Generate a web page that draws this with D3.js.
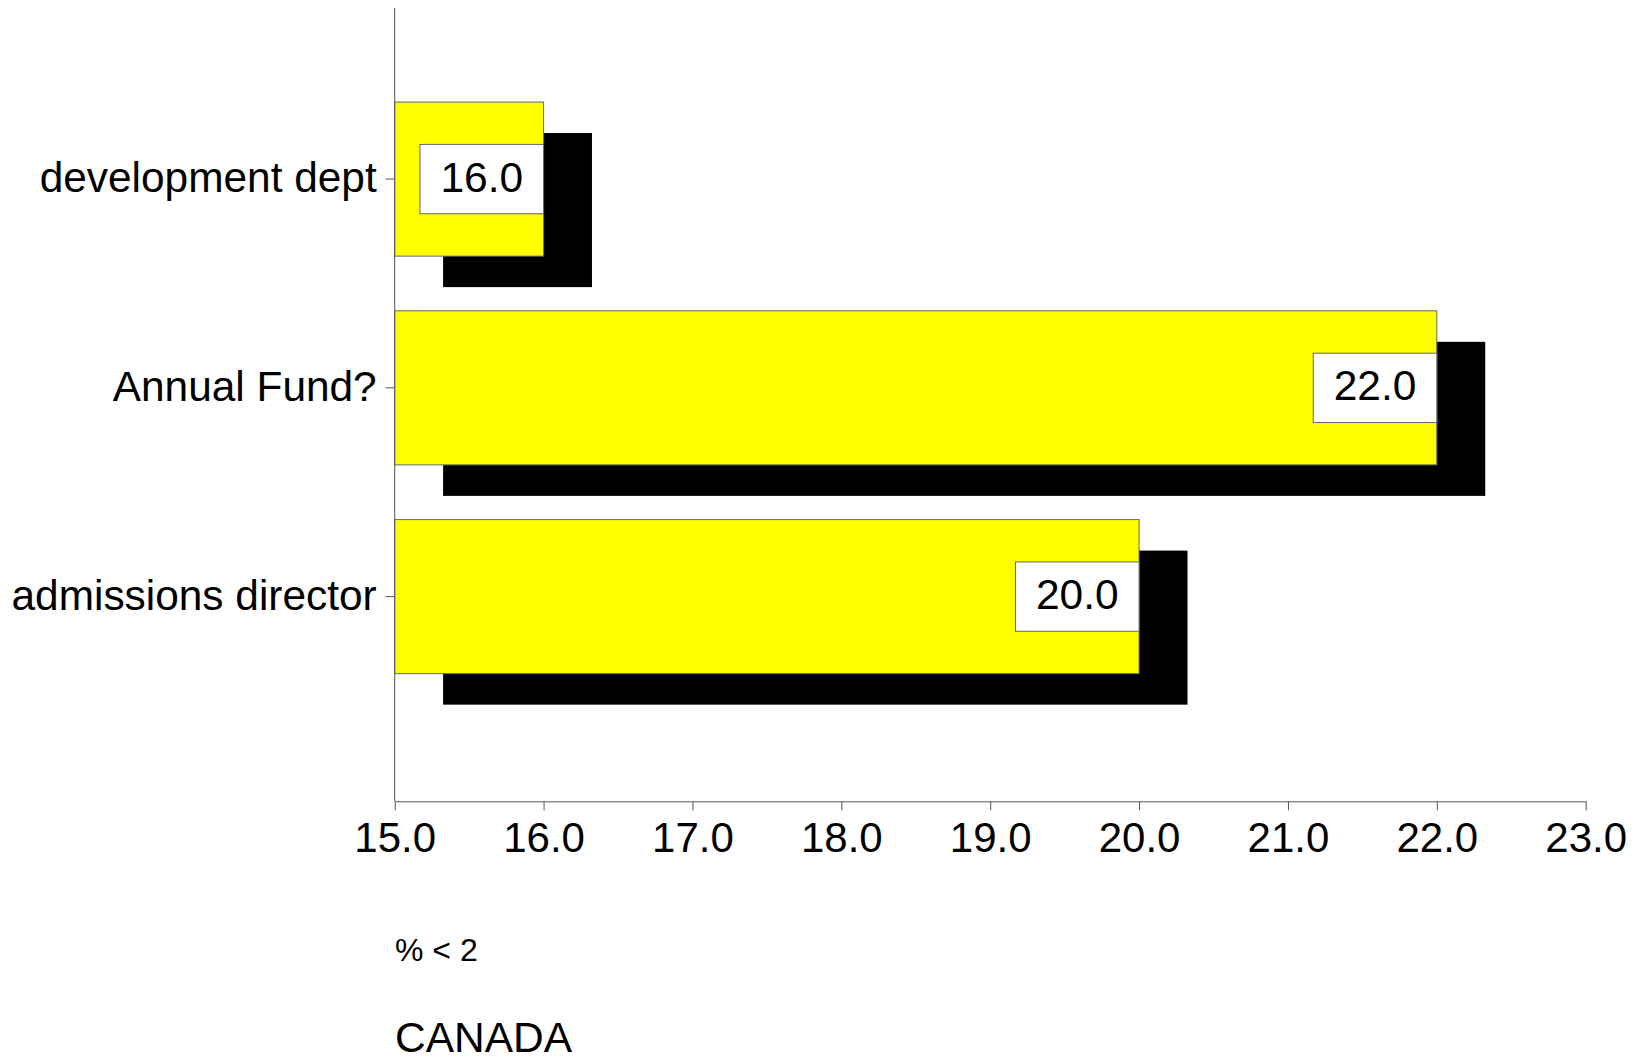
<!DOCTYPE html>
<html>
<head>
<meta charset="utf-8">
<script src="https://cdn.jsdelivr.net/npm/d3@7"></script>
<style>
  html, body { margin: 0; padding: 0; background: #fff; }
  svg { display: block; font-family: "Liberation Sans", Arial, sans-serif; }
</style>
</head>
<body>
<svg id="chart" width="1636" height="1061"></svg>
<script>
const categories = ["development dept", "Annual Fund?", "admissions director"];
const values = [16.0, 22.0, 20.0];
const xTicks = [15, 16, 17, 18, 19, 20, 21, 22, 23];
const xDomain = [15, 23];
const measureLabel = "% < 2";
const regionLabel = "CANADA";

const svg = d3.select("#chart");
const left = 394.7, right = 1585.7, axisY = 801.3, axisTop = 8;

const x = d3.scaleLinear().domain(xDomain).range([left, right]);
const y = d3.scaleBand().domain(categories).range([74.7, 701])
  .paddingInner(0.262).paddingOuter(0.131);

const shadowDx = 48.4, shadowDy = 31;
const data = categories.map((c, i) => ({ c, v: values[i] }));

// shadows
svg.append("g").selectAll("rect").data(data).join("rect")
  .attr("x", x(xDomain[0]) + shadowDx)
  .attr("y", d => y(d.c) + shadowDy)
  .attr("width", d => x(d.v) - x(xDomain[0]))
  .attr("height", y.bandwidth())
  .attr("fill", "#000");

// bars
svg.append("g").selectAll("rect").data(data).join("rect")
  .attr("x", x(xDomain[0]))
  .attr("y", d => y(d.c))
  .attr("width", d => x(d.v) - x(xDomain[0]))
  .attr("height", y.bandwidth())
  .attr("fill", "#ffff00")
  .attr("stroke", "#666")
  .attr("stroke-width", 1);

// value label boxes
const boxW = 123.6, boxH = 69.3;
const lbl = svg.append("g").selectAll("g").data(data).join("g");
lbl.append("rect")
  .attr("x", d => x(d.v) - boxW)
  .attr("y", d => y(d.c) + y.bandwidth() / 2 - boxH / 2)
  .attr("width", boxW)
  .attr("height", boxH)
  .attr("fill", "#fff")
  .attr("stroke", "#666")
  .attr("stroke-width", 1);
lbl.append("text")
  .attr("x", d => x(d.v) - boxW / 2)
  .attr("y", d => y(d.c) + y.bandwidth() / 2 + 12.5)
  .attr("text-anchor", "middle")
  .attr("font-size", 42.5)
  .attr("fill", "#000")
  .text(d => d3.format(".1f")(d.v));

// x axis
const xAxis = svg.append("g")
  .attr("transform", `translate(0,${axisY})`)
  .call(d3.axisBottom(x).tickValues(xTicks).tickFormat(d3.format(".1f")).tickSize(9).tickSizeOuter(0));
xAxis.select(".domain").attr("stroke", "#555");
xAxis.selectAll(".tick line").attr("stroke", "#555");
xAxis.selectAll(".tick text")
  .attr("font-size", 42)
  .attr("font-family", "'Liberation Sans', Arial, sans-serif")
  .attr("fill", "#000")
  .attr("dy", "0")
  .attr("y", 50.5);

// y axis
svg.append("line")
  .attr("x1", left).attr("x2", left)
  .attr("y1", axisTop).attr("y2", axisY)
  .attr("stroke", "#555");
const yAxis = svg.append("g")
  .attr("transform", `translate(${left},0)`)
  .call(d3.axisLeft(y).tickSize(9).tickPadding(9));
yAxis.select(".domain").remove();
yAxis.selectAll(".tick line").attr("stroke", "#555");
yAxis.selectAll(".tick text")
  .attr("font-size", 42.4)
  .attr("font-family", "'Liberation Sans', Arial, sans-serif")
  .attr("fill", "#000")
  .attr("dy", "0.31em");

// bottom labels
svg.append("text").attr("x", 395).attr("y", 961)
  .attr("font-size", 32).attr("fill", "#000").text(measureLabel);
svg.append("text").attr("x", 395).attr("y", 1052)
  .attr("font-size", 42.5).attr("fill", "#000").text(regionLabel);
</script>
</body>
</html>
